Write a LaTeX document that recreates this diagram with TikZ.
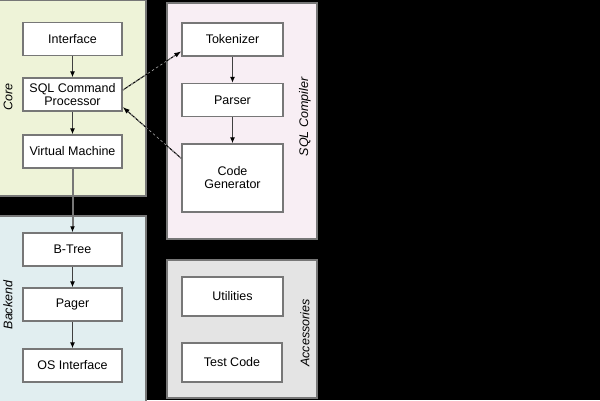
\documentclass[tikz,border=0pt]{standalone}
\usepackage{fontspec}
\setmainfont{Liberation Sans}
\usepackage{xcolor}
\usetikzlibrary{arrows.meta}

\definecolor{corefill}{HTML}{EEF3D8}
\definecolor{compfill}{HTML}{F8EEF4}
\definecolor{backfill}{HTML}{E1EEF0}
\definecolor{accfill}{HTML}{E4E4E4}
\definecolor{edgegray}{HTML}{777777}

\tikzset{
  group/.style={draw=edgegray, line width=1.5pt, anchor=north west, inner sep=0pt},
  part/.style={draw=edgegray, fill=white, line width=1.5pt, minimum width=99pt,
    minimum height=33pt, align=center, inner sep=1pt, font=\fontsize{12.5}{13}\selectfont},
  grouplabel/.style={rotate=90, font=\fontsize{12.5}{13}\selectfont\itshape},
  flow/.style={draw=black!75, line width=1pt, -{Latex[length=6pt,width=5pt,color=black]}},
  call/.style={draw=black, line width=1pt, -{Latex[length=7pt,width=5pt]},
    postaction={draw=gray!70, -, line width=0.6pt, dash pattern=on 2.5pt off 2.5pt, shorten >=7pt}}
}

\begin{document}
\begin{tikzpicture}[x=1pt,y=-1pt]
  % fond
  \fill[black] (0,0) rectangle (600,400);
  \useasboundingbox (0,0) rectangle (600,400);

  % les groupes
  \node[group, fill=corefill, minimum width=148pt, minimum height=196pt] (core) at (-3,-1) {};
  \node[group, fill=compfill, minimum width=150pt, minimum height=236pt] (compiler) at (166,2) {};
  \node[group, fill=backfill, minimum width=148pt, minimum height=186pt] (backend) at (-3,215) {};
  \node[group, fill=accfill, minimum width=150pt, minimum height=138pt] (access) at (166,259) {};

  \node[grouplabel] (corelbl) at (8,97) {Core};
  \node[grouplabel] (complbl) at (305,117) {SQL Compiler};
  \node[grouplabel] (backlbl) at (8,305) {Backend};
  \node[grouplabel] (acclbl) at (305,333) {Accessories};

  % les modules
  \node[part] (iface) at (72.5,39) {Interface};
  \node[part] (sqlcmd) at (72.5,94.5) {SQL Command\\Processor};
  \node[part] (vm) at (72.5,151.5) {Virtual Machine};
  \node[part, minimum width=101pt] (token) at (232.5,39.5) {Tokenizer};
  \node[part, minimum width=101pt] (parser) at (232.5,100) {Parser};
  \node[part, minimum width=101pt, minimum height=68pt] (codegen) at (232.5,178) {Code\\Generator};
  \node[part] (btree) at (72.5,249.5) {B-Tree};
  \node[part] (pager) at (72.5,304.5) {Pager};
  \node[part] (osif) at (72.5,365.5) {OS Interface};
  \node[part, minimum width=101pt, minimum height=39pt] (util) at (232.5,296.5) {Utilities};
  \node[part, minimum width=100pt, minimum height=39pt] (test) at (232,362.5) {Test Code};

  % les liens
  \draw[flow] (iface) -- (sqlcmd);
  \draw[flow] (sqlcmd) -- (vm);
  \draw[flow, draw=edgegray, line width=2pt] (vm) -- (btree);
  \draw[flow] (btree) -- (pager);
  \draw[flow] (pager) -- (osif);
  \draw[flow] (token) -- (parser);
  \draw[flow] (parser) -- (codegen);
  \draw[call] (sqlcmd.5) -- (token.193);
  \draw[call] (codegen.159) -- (sqlcmd.346);
\end{tikzpicture}
\end{document}
